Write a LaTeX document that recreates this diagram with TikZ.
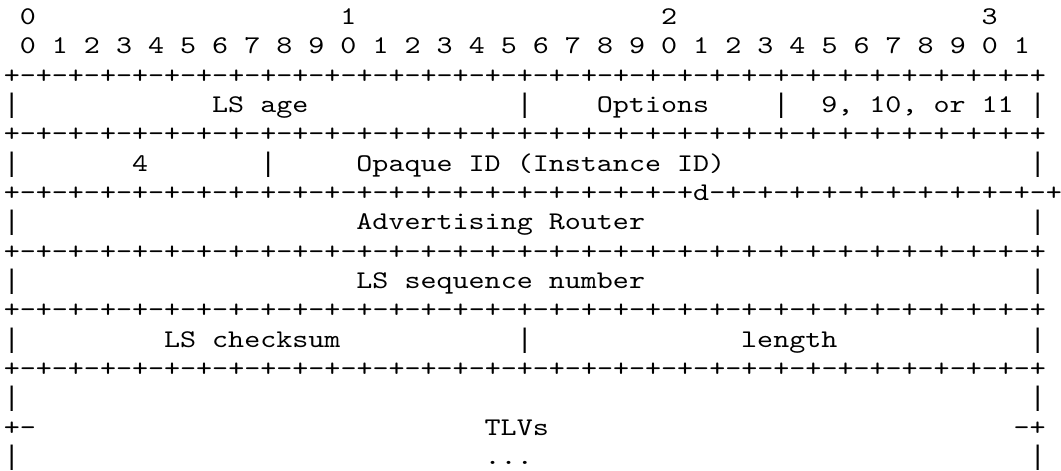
\documentclass[tikz,border=0pt]{standalone}
\usepackage{fontspec}
\newfontfamily\asciimono{lmmono10-regular.otf}[FakeStretch=1.2]
\newfontfamily\barmono{DejaVu Sans Mono}
\newcommand\sixteenrule{+-+-+-+-+-+-+-+-}
\newcommand\fullrule{\sixteenrule\sixteenrule\sixteenrule\sixteenrule+}
\newcommand\drule{\sixteenrule\sixteenrule+-+-+-+-+-+d-+-+-+-+-+-+-+-+-+-+-\makebox[10pt][l]{+}}
\tikzset{
  ascii/.style={anchor=base west, inner sep=0pt, outer sep=0pt,
    font=\asciimono\fontsize{25.45pt}{29.36pt}\selectfont, text=black},
  asciibar/.style={anchor=base, inner sep=0pt, outer sep=0pt,
    font=\barmono\fontsize{25.45pt}{29.36pt}\selectfont, text=black},
}
\begin{document}
\begin{tikzpicture}
\useasboundingbox (0pt,0pt) rectangle (1061pt,-471pt);
\begin{scope}[shift={(3.8pt,-24.3pt)}, x=16.03pt, y=-29.36pt]
% header
\node[ascii] (h0) at (1,0) {0};
\node[ascii] (h1) at (21,0) {1};
\node[ascii] (h2) at (41,0) {2};
\node[ascii] (h3) at (61,0) {3};
\node[ascii] (bits) at (1,1) {0 1 2 3 4 5 6 7 8 9 0 1 2 3 4 5 6 7 8 9 0 1 2 3 4 5 6 7 8 9 0 1};
% row 1
\node[ascii] (r1) at (0,2) {\fullrule};
\node[asciibar] (a0) at (0.5,3) {|};
\node[ascii] (lsage) at (13,3) {LS age};
\node[asciibar] (a1) at (32.5,3) {|};
\node[ascii] (opts) at (37,3) {Options};
\node[asciibar] (a2) at (48.5,3) {|};
\node[ascii] (type) at (51,3) {9, 10, or 11};
\node[asciibar] (a3) at (64.5,3) {|};
% row 2
\node[ascii] (r2) at (0,4) {\fullrule};
\node[asciibar] (b0) at (0.5,5) {|};
\node[ascii] (four) at (8,5) {4};
\node[asciibar] (b1) at (16.5,5) {|};
\node[ascii] (opaque) at (22,5) {Opaque ID (Instance ID)};
\node[asciibar] (b2) at (64.5,5) {|};
% row 3
\node[ascii] (r3) at (0,6) {\drule};
\node[asciibar] (c0) at (0.5,7) {|};
\node[ascii] (adv) at (22,7) {Advertising Router};
\node[asciibar] (c1) at (64.5,7) {|};
% row 4
\node[ascii] (r4) at (0,8) {\fullrule};
\node[asciibar] (d0) at (0.5,9) {|};
\node[ascii] (seq) at (22,9) {LS sequence number};
\node[asciibar] (d1) at (64.5,9) {|};
% row 5
\node[ascii] (r5) at (0,10) {\fullrule};
\node[asciibar] (e0) at (0.5,11) {|};
\node[ascii] (cks) at (10,11) {LS checksum};
\node[asciibar] (e1) at (32.5,11) {|};
\node[ascii] (len) at (46,11) {length};
\node[asciibar] (e2) at (64.5,11) {|};
% TLVs
\node[ascii] (r6) at (0,12) {\fullrule};
\node[asciibar] (f0) at (0.5,13) {|};
\node[asciibar] (f1) at (64.5,13) {|};
\node[ascii] (g0) at (0,14) {+-};
\node[ascii] (tlvs) at (30,14) {TLVs};
\node[ascii] (g1) at (63,14) {-+};
\node[asciibar] (k0) at (0.5,15) {|};
\node[ascii] (dots) at (30,15) {...};
\node[asciibar] (k1) at (64.5,15) {|};
\end{scope}
\end{tikzpicture}
\end{document}
